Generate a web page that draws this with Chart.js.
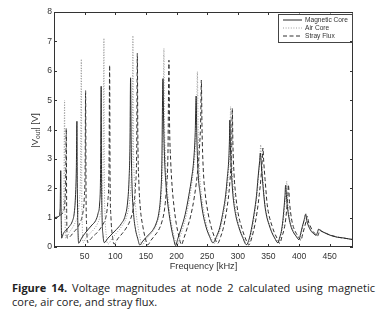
<!DOCTYPE html>
<html><head><meta charset="utf-8">
<script src="https://cdn.jsdelivr.net/npm/chart.js@4"></script>
<style>
html,body{margin:0;padding:0;background:#fff;}
#wrap{position:relative;width:381px;height:325px;overflow:hidden;}
#c{position:absolute;left:0;top:0;}
.cap{position:absolute;left:12px;width:363px;font-family:"Open Sans",Lato,sans-serif;font-size:11px;color:#222;white-space:nowrap;line-height:13px;}
#l1{top:281px;text-align:justify;text-align-last:justify;}
#l2{top:294.5px;}
</style></head><body>
<div id="wrap">
<canvas id="c" width="381" height="275"></canvas>
<div class="cap" id="l1"><b>Figure 14.</b> Voltage magnitudes at node 2 calculated using magnetic</div>
<div class="cap" id="l2">core, air core, and stray flux.</div>
</div>
<script>
// ---- data (frequency in kHz, |Vout| in V) ----
const seriesNames = ["Magnetic Core", "Air Core", "Stray Flux"];
const xTickValues = [50,100,150,200,250,300,350,400,450];
const yTickValues = [0,1,2,3,4,5,6,7,8];

const magFreq = [0,4,8,10,11,11.8,12.5,
15,20,25,30,33,35,36.5,37.4,
38,38.7,39.3,40.2,
45,50,55,62,68,72,74.5,76,77,
77.6,78.5,80,82,
88,95,102,110,116,120,122.5,124,125,
126,127.5,130,133,136.5,140,
145,150,156,162,167,171,174,176,177.8,
179,180.5,182.5,185,188,191.5,195,198.5,
202,207.8,214,220,225,228,230.5,232,
233,235,238.8,243,248.6,254,259.5,
265,270.4,275,280.2,283,285,286.3,287,
288,290,292,296,302,308,314,
319,323,327,330.5,333,335.5,336.8,
338,340,344,347,351,355,360,365.6,
368,371,373.5,375.4,377,378,
380,383.5,386.5,390,395,399.8,
402.5,405.4,408,410.8,
412.5,414.5,420,424,428,
430,432,
435,439,447,455,463,471.7,480,488];
const magVolt = [1.0,1.0,1.05,1.3,2.6,0.9,0.3,
0.45,0.58,0.7,0.88,1.15,1.7,2.7,4.28,
2.2,1.0,0.45,0.13,
0.3,0.45,0.58,0.75,0.9,1.15,1.5,2.5,5.47,
2.5,1.0,0.4,0.15,
0.3,0.45,0.6,0.8,1.05,1.5,2.3,3.5,5.76,
3.5,2.0,1.1,0.6,0.3,0.07,
0.2,0.32,0.45,0.6,0.82,1.15,1.75,2.8,5.73,
4.2,3.0,2.2,1.6,1.1,0.65,0.3,0.05,
0.28,0.65,1.1,1.75,2.4,2.95,3.9,5.14,
3.9,2.6,1.78,1.15,0.65,0.35,0.14,
0.35,0.65,1.1,1.78,2.4,2.9,3.6,4.32,
3.4,2.4,1.78,1.15,0.65,0.32,0.08,
0.31,0.7,1.2,1.75,2.35,2.9,3.2,
2.9,2.35,1.44,1.05,0.76,0.52,0.31,0.14,
0.3,0.53,0.9,1.33,1.75,2.1,
1.55,0.99,0.72,0.53,0.37,0.25,
0.45,0.7,0.9,1.12,
0.9,0.76,0.53,0.45,0.4,
0.5,0.61,
0.55,0.51,0.43,0.37,0.33,0.31,0.28,0.25];

const airFreq = [0,5,10,14,16,17.3,18,19,
20,25,30,35,39,41.5,43.3,44.6,
45.3,46.2,47.5,
52,58,65,71,75.5,78.5,80.3,81.5,
82.2,83.5,85.5,88,
95,103,111,118,123,126,127.8,128.8,
129.5,131,133.5,137,140.5,144,
150,156,162,168,172.5,175.5,177.8,179.4,
180.3,182,184,186.5,190,193.5,197,200.5,
205,210,216,222,227,230.5,232.8,234,
235.2,237,240.5,245,250.5,256,261.5,
267,272,277,282,285,287,288.3,
289.3,291,293.5,297.5,303.5,309.5,315.5,
320.5,324.5,328,331.5,334,336.2,337.3,
338.5,340.8,344.5,348,352,356,361,366.5,
369,372,374.5,376.5,378.5,379.7,
381.5,384.5,387.5,391,396,400.5,
403.5,406,408.8,411.2,
413,415,420.5,424.5,428.5,
430.5,432.5,
436,440,448,456,464,472,480,488];
const airVolt = [1.0,1.02,1.07,1.2,1.7,5.0,1.2,0.3,
0.3,0.5,0.65,0.85,1.1,1.6,2.6,6.39,
2.0,0.7,0.15,
0.3,0.45,0.6,0.8,1.1,1.7,3.0,7.1,
2.5,1.0,0.35,0.1,
0.3,0.5,0.72,1.0,1.5,2.3,3.7,7.19,
4.0,2.3,1.3,0.7,0.3,0.07,
0.25,0.4,0.55,0.8,1.2,1.9,3.2,6.76,
4.3,3.0,2.2,1.6,1.0,0.6,0.28,0.05,
0.3,0.62,1.08,1.75,2.5,3.3,4.4,5.97,
4.2,2.8,1.8,1.15,0.62,0.33,0.12,
0.35,0.66,1.15,1.85,2.6,3.4,4.78,
3.6,2.5,1.8,1.15,0.62,0.3,0.07,
0.32,0.72,1.2,1.8,2.45,3.05,3.48,
3.0,2.35,1.44,1.03,0.74,0.5,0.3,0.12,
0.3,0.55,0.92,1.38,1.85,2.24,
1.6,1.0,0.72,0.52,0.36,0.24,
0.46,0.7,0.92,1.14,
0.9,0.76,0.53,0.45,0.39,
0.5,0.62,
0.55,0.51,0.43,0.37,0.33,0.31,0.28,0.25];

const strayFreq = [0,5,10,15,18,19.2,20,20.7,21.8,
26,32,38,43,47,49.5,50.8,51.6,
52.3,53.3,55,
60,67,74,80,85,88,89.8,90.8,
91.5,93,95.5,98,
104,111,118,125,130,133,135,136,
136.8,138.5,141,145,149,153,
158,164,170,176,180.5,183.5,186,187.6,
188.6,190.5,193,196,199.5,203.5,208,
212,217,223,229,234,237.5,239.5,240.5,
241.6,243.5,247,251.5,257,262,267,
272,276.5,281,285.5,288.3,290,291,
292,293.8,296.5,300.5,306.5,312,318,
323,327.5,331.5,335,338,340,341,
342.3,344.5,348,351.5,355.5,359.5,364,368.5,
372,375.5,378.2,380.2,381.7,382.5,
384.5,387.5,390.5,394,398.5,403,
406,409,411.5,413.5,
415.5,418,423,427,430.5,
432.3,434,
437,441,449,457,465,473,481,488];
const strayVolt = [1.0,1.02,1.08,1.2,1.6,2.5,4.04,1.2,0.3,
0.35,0.5,0.65,0.85,1.15,1.7,2.7,5.32,
1.8,0.7,0.15,
0.28,0.42,0.58,0.78,1.05,1.6,2.7,6.19,
2.4,1.0,0.35,0.1,
0.28,0.45,0.65,0.95,1.4,2.1,3.4,6.59,
3.8,2.2,1.3,0.7,0.3,0.07,
0.22,0.38,0.55,0.85,1.3,2.0,3.2,6.36,
4.2,2.9,2.0,1.35,0.8,0.4,0.08,
0.3,0.62,1.05,1.7,2.5,3.4,4.4,5.68,
4.0,2.7,1.78,1.15,0.65,0.33,0.12,
0.35,0.66,1.15,1.85,2.6,3.4,4.72,
3.5,2.5,1.78,1.15,0.65,0.32,0.07,
0.33,0.72,1.2,1.78,2.4,3.0,3.37,
2.9,2.3,1.44,1.03,0.74,0.5,0.3,0.12,
0.35,0.6,0.95,1.38,1.8,2.12,
1.5,0.98,0.7,0.52,0.36,0.23,
0.45,0.68,0.88,1.05,
0.85,0.72,0.52,0.44,0.38,
0.48,0.58,
0.54,0.5,0.42,0.37,0.33,0.3,0.28,0.25];

const X_MIN = 0, X_MAX = 488, Y_MIN = 0, Y_MAX = 8;

function pts(xs, ys){ return xs.map((x,i)=>({x:x, y:ys[i]})); }

const styles = [
  {color:'#2b2b2b', dash:[]},
  {color:'#9c9c9c', dash:[1,1.6]},
  {color:'#303030', dash:[4,2.5]}
];

const frame = {
  id:'frame',
  afterDatasetsDraw(chart){
    const {ctx, chartArea:a, scales:{x, y}} = chart;
    ctx.save();
    ctx.strokeStyle = '#333'; ctx.lineWidth = 1; ctx.setLineDash([]);
    ctx.strokeRect(a.left+0.5, a.top+0.5, a.right-a.left-1, a.bottom-a.top-1);
    ctx.beginPath();
    xTickValues.forEach(v=>{
      const px = Math.round(x.getPixelForValue(v))+0.5;
      ctx.moveTo(px, a.bottom); ctx.lineTo(px, a.bottom-3);
      ctx.moveTo(px, a.top); ctx.lineTo(px, a.top+3);
    });
    yTickValues.forEach(v=>{
      const py = Math.round(y.getPixelForValue(v))+0.5;
      ctx.moveTo(a.left, py); ctx.lineTo(a.left+3, py);
      ctx.moveTo(a.right, py); ctx.lineTo(a.right-3, py);
    });
    ctx.stroke();

    // legend (top-right, inside plot)
    const lx = a.right-75, ly = a.top+1.5, lw = 74.5, lh = 27.5;
    ctx.fillStyle = '#fff';
    ctx.fillRect(lx, ly, lw, lh);
    ctx.strokeStyle = '#444';
    ctx.strokeRect(Math.round(lx)+0.5, Math.round(ly)+0.5, Math.round(lw)-1, Math.round(lh));
    ctx.font = '6.6px "Liberation Sans", Arial, sans-serif';
    ctx.textBaseline = 'middle'; ctx.textAlign = 'left';
    const rows = [ly+6.5, ly+14.5, ly+22.5];
    chart.data.datasets.forEach((ds,i)=>{
      ctx.strokeStyle = ds.borderColor; ctx.lineWidth = 1;
      ctx.setLineDash(ds.borderDash||[]);
      ctx.beginPath(); ctx.moveTo(lx+5, rows[i]); ctx.lineTo(lx+24, rows[i]); ctx.stroke();
      ctx.setLineDash([]);
      ctx.fillStyle = '#333';
      ctx.fillText(ds.label, lx+27, rows[i]);
    });

    // y-axis title with subscript: |V_out| [V]
    ctx.translate(35, (a.top+a.bottom)/2 + 1);
    ctx.rotate(-Math.PI/2);
    const fMain = '9.3px "Liberation Sans", Arial, sans-serif';
    const fSub = '6.8px "Liberation Sans", Arial, sans-serif';
    ctx.font = fMain; const w1 = ctx.measureText('|V').width; const w3 = ctx.measureText('| [V]').width;
    ctx.font = fSub; const w2 = ctx.measureText('out').width;
    const total = w1+w2+w3; let sx = -total/2;
    ctx.fillStyle = '#333'; ctx.textBaseline = 'middle';
    ctx.font = fMain; ctx.fillText('|V', sx, 0); sx += w1;
    ctx.font = fSub; ctx.fillText('out', sx, 3); sx += w2;
    ctx.font = fMain; ctx.fillText('| [V]', sx, 0);
    ctx.restore();
  }
};

new Chart(document.getElementById('c'), {
  type: 'scatter',
  data: {
    datasets: [
      {label: seriesNames[0], data: pts(magFreq, magVolt)},
      {label: seriesNames[1], data: pts(airFreq, airVolt)},
      {label: seriesNames[2], data: pts(strayFreq, strayVolt)}
    ].map((d,i)=>Object.assign(d, {
      showLine:true, pointRadius:0, pointHoverRadius:0, borderWidth:1,
      borderColor: styles[i].color, borderDash: styles[i].dash,
      backgroundColor: styles[i].color, fill:false,
      cubicInterpolationMode:'monotone'
    }))
  },
  options: {
    responsive:false, animation:false, devicePixelRatio:1,
    layout:{padding:{left:0, right:28, top:12, bottom:0}},
    plugins:{legend:{display:false}, tooltip:{enabled:false}},
    scales:{
      x:{
        type:'linear', min:X_MIN, max:X_MAX,
        afterFit(s){ s.height = 28; },
        afterBuildTicks(s){ s.ticks = xTickValues.map(v=>({value:v})); },
        grid:{display:false, drawTicks:false}, border:{display:false},
        ticks:{padding:4, color:'#333', maxRotation:0, autoSkip:false,
               font:{family:'"Liberation Sans", Arial, sans-serif', size:8.6}},
        title:{display:true, text:'Frequency [kHz]', color:'#333', padding:{top:0,bottom:3},
               font:{family:'"Liberation Sans", Arial, sans-serif', size:9.3}}
      },
      y:{
        type:'linear', min:Y_MIN, max:Y_MAX,
        afterFit(s){ s.width = 54; },
        afterBuildTicks(s){ s.ticks = yTickValues.map(v=>({value:v})); },
        grid:{display:false, drawTicks:false}, border:{display:false},
        ticks:{padding:2, color:'#333', autoSkip:false,
               font:{family:'"Liberation Sans", Arial, sans-serif', size:8.6}}
      }
    }
  },
  plugins:[frame]
});
</script>
</body></html>
